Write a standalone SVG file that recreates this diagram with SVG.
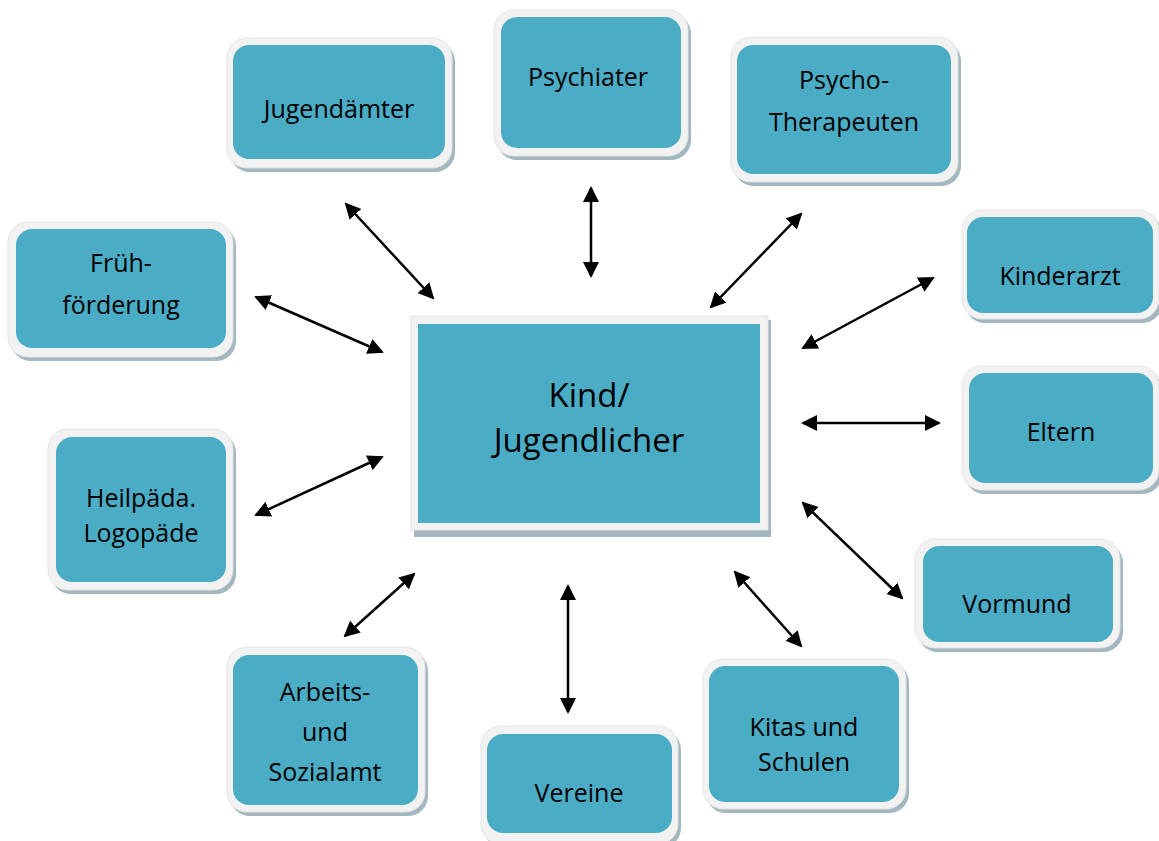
<svg xmlns="http://www.w3.org/2000/svg" width="1159" height="841" viewBox="0 0 1159 841">
<defs>
<style>
.sh{fill:#a3b7bf}
.out{fill:#f2f2f2;stroke:#e4e4e4;stroke-width:1}
.in{fill:#4bacc6}
.t{font-family:"Open Sans","Liberation Sans",sans-serif;font-size:25px;fill:#000;text-anchor:middle}
.tc{font-family:"Open Sans","Liberation Sans",sans-serif;font-size:33px;fill:#000;text-anchor:middle}
.c line{stroke:#000;stroke-width:2.5;marker-start:url(#ah);marker-end:url(#ah)}
</style>
<marker id="ah" viewBox="0 0 16 16" refX="14" refY="8" markerWidth="16" markerHeight="16" markerUnits="userSpaceOnUse" orient="auto-start-reverse">
<path d="M0,0 L16,8 L0,16 z" fill="#000"/>
</marker>
</defs>
<rect width="1159" height="841" fill="#fff"/>

<g class="c" id="connectors">
<line x1="346" y1="204" x2="433" y2="298"/>
<line x1="591" y1="188" x2="591" y2="276"/>
<line x1="801" y1="214" x2="711" y2="307"/>
<line x1="933" y1="278" x2="803" y2="348"/>
<line x1="803" y1="423" x2="939" y2="423"/>
<line x1="803" y1="503" x2="902" y2="598"/>
<line x1="735" y1="572" x2="801" y2="646"/>
<line x1="568" y1="586" x2="568" y2="712"/>
<line x1="414" y1="574" x2="345" y2="636"/>
<line x1="382" y1="457" x2="256" y2="515"/>
<line x1="256" y1="297" x2="382" y2="352"/>
</g>

<g id="center">
<rect class="sh" x="414" y="320" width="357" height="217"/>
<rect class="out" x="411" y="316" width="357" height="214"/>
<rect class="in" x="418" y="324" width="342" height="199"/>
<text class="tc" x="589" y="407">Kind/</text>
<text class="tc" x="589" y="452">Jugendlicher</text>
</g>

<g id="jugendaemter">
<rect class="sh" x="230" y="42" width="225" height="130" rx="20"/>
<rect class="out" x="227" y="38" width="225" height="130" rx="20"/>
<rect class="in" x="233" y="45" width="212" height="114" rx="16"/>
<text class="t" x="339" y="118">Jugendämter</text>
</g>

<g id="psychiater">
<rect class="sh" x="497" y="14" width="194" height="146" rx="20"/>
<rect class="out" x="494" y="10" width="194" height="146" rx="20"/>
<rect class="in" x="501" y="17" width="180" height="131" rx="16"/>
<text class="t" x="588" y="86">Psychiater</text>
</g>

<g id="psychotherapeuten">
<rect class="sh" x="734" y="41" width="227" height="145" rx="20"/>
<rect class="out" x="731" y="37" width="227" height="145" rx="20"/>
<rect class="in" x="737" y="45" width="214" height="129" rx="16"/>
<text class="t" x="844" y="89">Psycho-</text>
<text class="t" x="844" y="131">Therapeuten</text>
</g>

<g id="kinderarzt">
<rect class="sh" x="965" y="214" width="197" height="109" rx="20"/>
<rect class="out" x="962" y="210" width="197" height="109" rx="20"/>
<rect class="in" x="967" y="217" width="186" height="96" rx="16"/>
<text class="t" x="1060" y="285">Kinderarzt</text>
</g>

<g id="eltern">
<rect class="sh" x="965" y="370" width="197" height="124" rx="20"/>
<rect class="out" x="962" y="366" width="197" height="124" rx="20"/>
<rect class="in" x="969" y="373" width="184" height="110" rx="16"/>
<text class="t" x="1061" y="441">Eltern</text>
</g>

<g id="vormund">
<rect class="sh" x="918" y="543" width="205" height="109" rx="20"/>
<rect class="out" x="915" y="539" width="205" height="109" rx="20"/>
<rect class="in" x="923" y="546" width="190" height="96" rx="16"/>
<text class="t" x="1017" y="613">Vormund</text>
</g>

<g id="kitas">
<rect class="sh" x="706" y="663" width="203" height="150" rx="20"/>
<rect class="out" x="703" y="659" width="203" height="150" rx="20"/>
<rect class="in" x="709" y="666" width="190" height="136" rx="16"/>
<text class="t" x="804" y="736">Kitas und</text>
<text class="t" x="804" y="771">Schulen</text>
</g>

<g id="vereine">
<rect class="sh" x="484" y="730" width="197" height="118" rx="20"/>
<rect class="out" x="481" y="726" width="197" height="118" rx="20"/>
<rect class="in" x="487" y="734" width="185" height="99" rx="16"/>
<text class="t" x="579" y="802">Vereine</text>
</g>

<g id="arbeitsamt">
<rect class="sh" x="230" y="651" width="198" height="165" rx="20"/>
<rect class="out" x="227" y="647" width="198" height="165" rx="20"/>
<rect class="in" x="233" y="655" width="185" height="150" rx="16"/>
<text class="t" x="325" y="701">Arbeits-</text>
<text class="t" x="325" y="741">und</text>
<text class="t" x="325" y="781">Sozialamt</text>
</g>

<g id="heilpaeda">
<rect class="sh" x="51" y="433" width="185" height="161" rx="20"/>
<rect class="out" x="48" y="429" width="185" height="161" rx="20"/>
<rect class="in" x="56" y="437" width="170" height="145" rx="16"/>
<text class="t" x="141" y="507">Heilpäda.</text>
<text class="t" x="141" y="542">Logopäde</text>
</g>

<g id="fruehfoerderung">
<rect class="sh" x="11" y="226" width="225" height="135" rx="20"/>
<rect class="out" x="8" y="222" width="225" height="135" rx="20"/>
<rect class="in" x="16" y="229" width="210" height="119" rx="16"/>
<text class="t" x="121" y="272">Früh-</text>
<text class="t" x="121" y="314">förderung</text>
</g>
</svg>
